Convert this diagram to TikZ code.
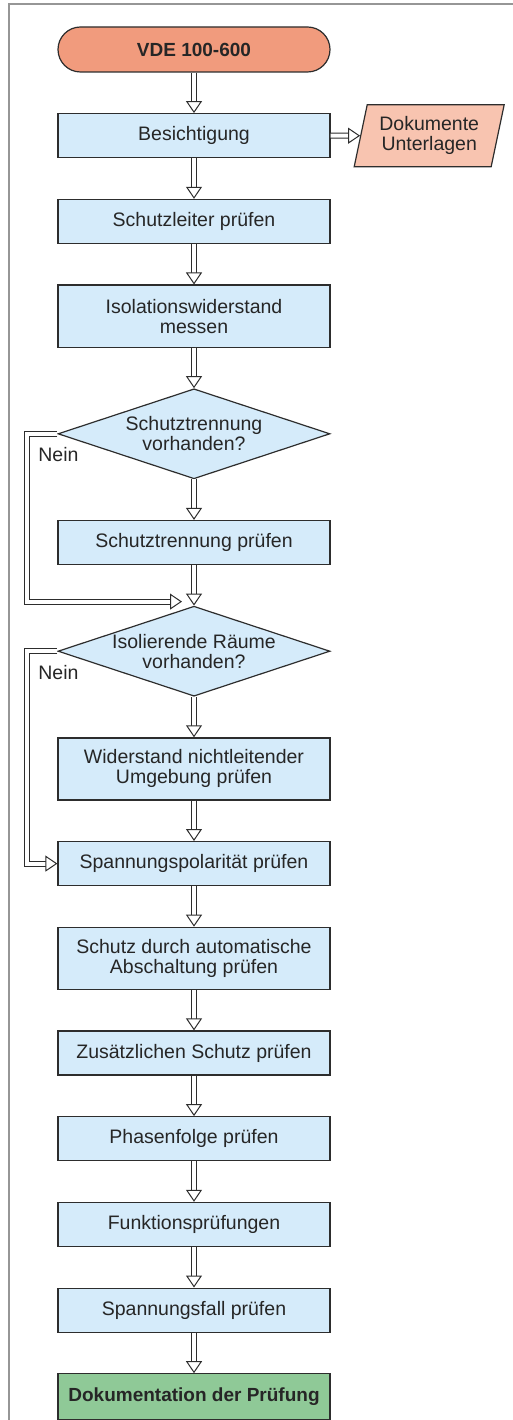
\documentclass[tikz,border=0pt]{standalone}
\usepackage{fontspec}
\setmainfont{Liberation Sans}
\usetikzlibrary{arrows.meta,positioning,shapes.geometric}
\definecolor{startred}{RGB}{241,155,125}
\definecolor{docred}{RGB}{248,196,176}
\definecolor{boxblue}{RGB}{213,235,250}
\definecolor{endgreen}{RGB}{143,201,151}
\definecolor{linegray}{RGB}{45,45,45}
\definecolor{framegray}{RGB}{150,150,150}

\begin{document}
\begin{tikzpicture}[x=1pt, y=1pt, node distance=40.5pt,
  every node/.style={font=\fontsize{19.5}{20}\selectfont, text=black!85},
  box/.style={draw=linegray, line width=1.2pt, fill=boxblue, minimum width=272pt,
    minimum height=44pt, inner sep=0pt, align=center},
  tall/.style={minimum height=62pt},
  terminal/.style={box, fill=startred, rounded corners=22.5pt, minimum height=45pt,
    font=\fontsize{19}{20}\selectfont\bfseries},
  final/.style={box, fill=endgreen, minimum height=46pt,
    font=\fontsize{19}{20}\selectfont\bfseries},
  decision/.style={diamond, draw=linegray, line width=1.2pt, fill=boxblue, aspect=3,
    inner xsep=-10pt, inner ysep=0pt, minimum width=272pt, minimum height=90pt, align=center},
  docs/.style={trapezium, trapezium left angle=76, trapezium right angle=104,
    trapezium stretches=true, draw=linegray, line width=1.2pt, fill=docred,
    minimum width=150pt, minimum height=62pt, align=center},
  flow/.style={draw=linegray, line width=1pt, double=white, double distance=4pt,
    -{Triangle[width=16pt, length=12pt, fill=white]}},
  nolabel/.style={inner sep=0pt}]
  \useasboundingbox (0,0) rectangle (513,-1420);
  \draw[framegray, line width=1.8pt] (9,-1420) -- (9,-4) -- (513,-4);

  \node [terminal] (start) at (194,-49.5) {VDE 100-600};
  \node [box, below=of start] (besich) {Besichtigung};
  \node [docs, right=29.5pt of besich] (docs) {Dokumente\\Unterlagen};
  \node [box, below=of besich] (leiter) {Schutzleiter prüfen};
  \node [box, tall, below=of leiter] (iso) {Isolationswiderstand\\messen};
  \node [decision, below=of iso] (d1) {Schutztrennung\\vorhanden?};
  \node [box, below=of d1] (trenn) {Schutztrennung prüfen};
  \node [decision, below=of trenn] (d2) {Isolierende Räume\\vorhanden?};
  \node [box, tall, below=of d2] (umgeb) {Widerstand nichtleitender\\Umgebung prüfen};
  \node [box, below=of umgeb] (polar) {Spannungspolarität prüfen};
  \node [box, tall, below=of polar] (auto) {Schutz durch automatische\\Abschaltung prüfen};
  \node [box, below=of auto] (zusatz) {Zusätzlichen Schutz prüfen};
  \node [box, below=of zusatz] (phase) {Phasenfolge prüfen};
  \node [box, below=of phase] (funk) {Funktionsprüfungen};
  \node [box, below=of funk] (fall) {Spannungsfall prüfen};
  \node [final, below=of fall] (doku) {Dokumentation der Prüfung};

  \node [nolabel] (nein1) at ([xshift=1pt, yshift=-21pt]d1.west) {Nein};
  \node [nolabel] (nein2) at ([xshift=1pt, yshift=-21pt]d2.west) {Nein};
  \coordinate (merge) at ([xshift=-12pt, yshift=4pt]d2.north);

  \draw [flow] (start) -- (besich);
  \draw [flow] (besich) -- (docs);
  \draw [flow] (besich) -- (leiter);
  \draw [flow] (leiter) -- (iso);
  \draw [flow] (iso) -- (d1);
  \draw [flow] (d1) -- (trenn);
  \draw [flow] (trenn) -- (d2);
  \draw [flow] (d1.west) -- ++(-30,0) |- (merge);
  \draw [flow] (d2) -- (umgeb);
  \draw [flow] (d2.west) -- ++(-30,0) |- (polar.west);
  \draw [flow] (umgeb) -- (polar);
  \draw [flow] (polar) -- (auto);
  \draw [flow] (auto) -- (zusatz);
  \draw [flow] (zusatz) -- (phase);
  \draw [flow] (phase) -- (funk);
  \draw [flow] (funk) -- (fall);
  \draw [flow] (fall) -- (doku);
\end{tikzpicture}
\end{document}
